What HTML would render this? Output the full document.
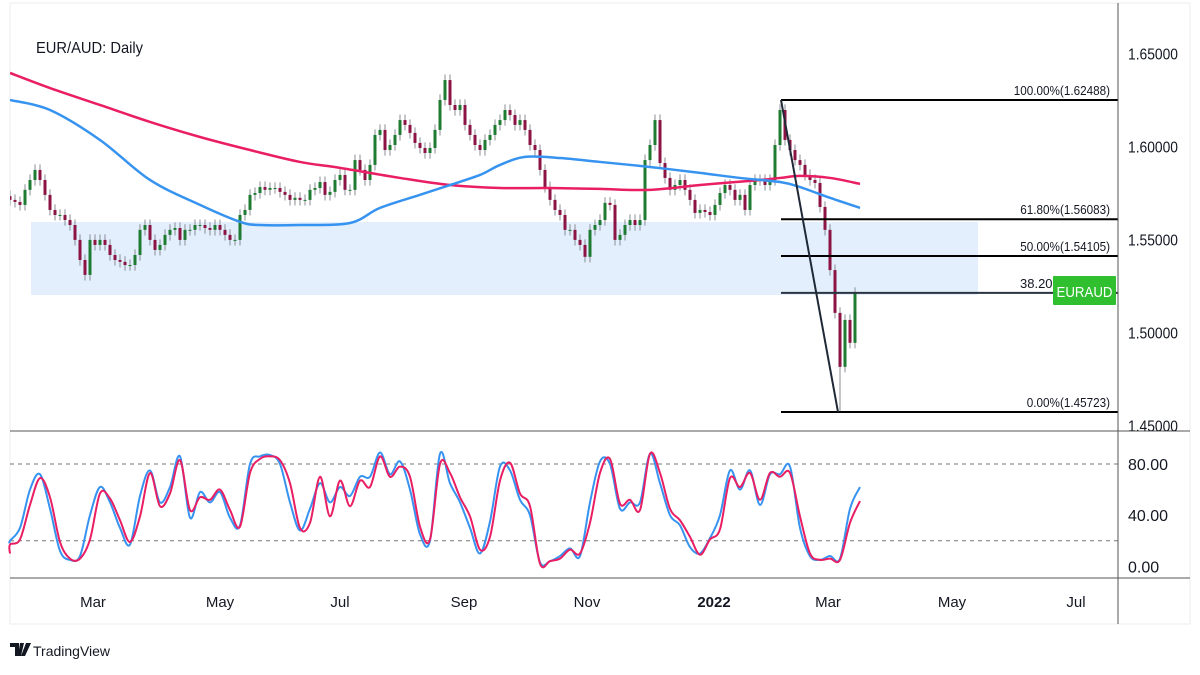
<!DOCTYPE html>
<html><head><meta charset="utf-8"><style>
html,body{margin:0;padding:0;background:#fff;width:1200px;height:675px;overflow:hidden}
svg{display:block;font-family:"Liberation Sans",sans-serif}
</style></head><body>
<svg id="chart" width="1200" height="675" viewBox="0 0 1200 675">
<defs><clipPath id="pricePane"><rect x="10" y="3" width="1108" height="428"/></clipPath>
<clipPath id="priceAxisClip"><rect x="1118" y="3" width="72" height="428"/></clipPath></defs>
<rect x="10" y="3" width="1180" height="621" fill="#fff" stroke="#eceef2" stroke-width="1"/>
<rect x="31" y="222" width="947" height="73" fill="#e3effc"/>
<g id="candles" clip-path="url(#pricePane)"></g>
<g id="mas" clip-path="url(#pricePane)"></g>
<g id="fib"></g>
<g id="stoch"></g>
<line x1="10" y1="431" x2="1190" y2="431" stroke="#555" stroke-width="1"/>
<line x1="10" y1="578" x2="1190" y2="578" stroke="#555" stroke-width="1"/>
<line x1="1118" y1="3" x2="1118" y2="624" stroke="#555" stroke-width="1"/>
<g id="axes"></g>
<text x="36" y="53" font-size="16" fill="#131722" transform="translate(36 0) scale(0.92 1) translate(-36 0)">EUR/AUD: Daily</text>
<g>
<path d="M10 643h9v13h-4v-9h-5z M20 643h4l-3 13h-3z M26 643h5l-6 13h-4z" fill="#131722"/>
<text x="33" y="656" font-size="14" fill="#131722">TradingView</text>
</g>
</svg>
<script>
const closes=[1.5712,1.5701,1.5685,1.5766,1.5819,1.5873,1.5819,1.5739,1.5658,1.5631,1.5631,1.5604,1.5577,1.5497,1.5389,1.5309,1.5497,1.5470,1.5497,1.5470,1.5416,1.5389,1.5379,1.5362,1.5362,1.5416,1.5551,1.5577,1.5497,1.5443,1.5470,1.5524,1.5551,1.5561,1.5497,1.5551,1.5551,1.5577,1.5577,1.5561,1.5551,1.5577,1.5551,1.5524,1.5497,1.5497,1.5631,1.5658,1.5739,1.5749,1.5781,1.5766,1.5776,1.5776,1.5755,1.5739,1.5712,1.5723,1.5712,1.5712,1.5766,1.5776,1.5808,1.5739,1.5755,1.5819,1.5846,1.5766,1.5766,1.5926,1.5873,1.5819,1.5900,1.6061,1.6088,1.5980,1.6007,1.6061,1.6141,1.6115,1.6072,1.6018,1.5991,1.5964,1.5991,1.6088,1.6249,1.6356,1.6222,1.6195,1.6222,1.6115,1.6061,1.6007,1.5980,1.6034,1.6061,1.6115,1.6141,1.6195,1.6168,1.6115,1.6141,1.6088,1.6007,1.5980,1.5873,1.5781,1.5712,1.5658,1.5631,1.5551,1.5551,1.5497,1.5470,1.5406,1.5551,1.5577,1.5604,1.5696,1.5685,1.5497,1.5524,1.5577,1.5604,1.5577,1.5604,1.5926,1.6007,1.6141,1.5910,1.5830,1.5766,1.5792,1.5819,1.5766,1.5712,1.5642,1.5658,1.5647,1.5631,1.5685,1.5749,1.5792,1.5766,1.5712,1.5739,1.5658,1.5792,1.5819,1.5819,1.5792,1.5819,1.6007,1.6195,1.6034,1.5980,1.5926,1.5900,1.5846,1.5819,1.5803,1.5674,1.5551,1.5335,1.5105,1.4815,1.5067,1.4944,1.5212];
const lowSpike=1.45723;
const sma200=[1.6394,1.6313,1.6222,1.6131,1.6050,1.5980,1.5916,1.5884,1.5830,1.5792,1.5776,1.5776,1.5771,1.5766,1.5792,1.5814,1.5830,1.5841,1.5830,1.5798];
const sma200X=[10,50,100,150,200,250,300,340,400,450,500,550,600,650,700,750,780,800,830,860];
const sma100=[1.6249,1.6195,1.6034,1.5819,1.5685,1.5594,1.5577,1.5577,1.5588,1.5669,1.5739,1.5792,1.5846,1.5900,1.5943,1.5937,1.5916,1.5889,1.5857,1.5830,1.5808,1.5781,1.5723,1.5669];
const sma100X=[10,50,100,150,200,240,260,300,350,380,420,450,480,500,525,560,600,650,700,740,780,800,830,860];
const stochK=[18,20,30,60,72,45,12,5,8,40,62,50,30,17,55,75,50,62,86,38,58,50,58,38,32,80,86,87,80,50,28,45,65,50,62,55,70,70,89,72,82,60,25,20,88,65,50,30,10,35,78,75,52,40,3,4,8,14,8,50,82,80,45,50,50,88,65,40,32,15,10,22,40,75,60,75,48,72,72,78,30,8,5,8,6,45,62];
const stochD=[10,17,21,48,69,54,19,6,6,21,57,53,36,19,39,73,47,57,83,44,54,52,60,44,31,73,84,86,83,65,30,34,70,39,67,47,67,62,86,70,78,70,31,21,80,73,54,39,13,23,67,81,57,47,2,4,6,13,10,34,73,84,49,52,44,88,73,45,36,23,9,21,29,69,62,73,52,73,70,73,39,10,5,6,5,34,51];
const fibLevels=[1.62488,1.56083,1.54105,1.52127,1.45723];
const fibLabels=["100.00%(1.62488)","61.80%(1.56083)","50.00%(1.54105)","38.20%","0.00%(1.45723)"];
const priceTicks=[1.65,1.60,1.55,1.50,1.45];
const stochTicks=[80,40,0];
const stochBands=[80,20];
const monthLabels=["Mar","May","Jul","Sep","Nov","2022","Mar","May","Jul"];
const monthX=[93,220,340,464,587,714,828,952,1076];

const NS="http://www.w3.org/2000/svg";
const py=p=>100+(1.62488-p)*1861;
const sy=v=>540.7-(v-20)*1.278;
const cx=i=>10+i*5;
const sx=i=>i*10;
function mk(tag,attrs,parent){const e=document.createElementNS(NS,tag);for(const k in attrs)e.setAttribute(k,attrs[k]);parent.appendChild(e);return e;}
function smooth(pts){let d='M'+pts[0][0]+' '+pts[0][1];for(let i=0;i<pts.length-1;i++){const p0=pts[i-1]||pts[i],p1=pts[i],p2=pts[i+1],p3=pts[i+2]||p2;
const c1=[p1[0]+(p2[0]-p0[0])/6,p1[1]+(p2[1]-p0[1])/6],c2=[p2[0]-(p3[0]-p1[0])/6,p2[1]-(p3[1]-p1[1])/6];
d+=' C'+c1[0]+' '+c1[1]+' '+c2[0]+' '+c2[1]+' '+p2[0]+' '+p2[1];}return d;}
const gC=document.getElementById('candles');
for(let i=0;i<closes.length;i++){
  const o=i?closes[i-1]:closes[0]+0.002, c=closes[i];
  const up=c>=o, x=cx(i);
  const hi=Math.max(o,c)+0.003, lo=(i===closes.length-4)?lowSpike:Math.min(o,c)-0.003;
  const w=mk('line',{x1:x,x2:x,y1:py(hi),y2:py(lo),stroke:'#8a8d96','stroke-width':1},gC);
  
  
  const b=mk('rect',{x:x-1.5,y:py(Math.max(o,c)),width:3,height:Math.max(1,Math.abs(py(o)-py(c))),fill:up?'#1e7b32':'#8b1445'},gC);
  
  
}
const gM=document.getElementById('mas');
const l200=mk('path',{d:smooth(sma200.map((v,i)=>[sma200X[i],py(v)])),fill:'none',stroke:'#e91e63','stroke-width':2.5},gM);


const l100=mk('path',{d:smooth(sma100.map((v,i)=>[sma100X[i],py(v)])),fill:'none',stroke:'#3793f0','stroke-width':2.5},gM);


const gF=document.getElementById('fib');
fibLevels.forEach((v,i)=>{
  const y=py(v);
  const l=mk('line',{x1:781,x2:1118,y1:y,y2:y,stroke:i===3?'#2a3440':'#000','stroke-width':2},gF);
  
  
  const t=mk('text',{x:i===3?1020:1110,y:y-5,'font-size':13,fill:'#131722','text-anchor':i===3?'start':'end',textLength:i===3?'':'',},gF);
  if(i!==3){t.setAttribute('transform','translate(1110 0) scale(0.9 1) translate(-1110 0)');}
  t.textContent=fibLabels[i];
  
  
});
const dg=mk('line',{x1:781,y1:py(fibLevels[0]),x2:838,y2:py(fibLevels[4]),stroke:'#1f2937','stroke-width':2},gF);


const tg=mk('rect',{x:1053,y:276,width:63,height:29,fill:'#2fbf2f',rx:1},gF);


const tt=mk('text',{x:1084.5,y:297,'font-size':15,fill:'#fff','text-anchor':'middle',textLength:56,lengthAdjust:'spacingAndGlyphs'},gF);
tt.textContent='EURAUD';


const gS=document.getElementById('stoch');
stochBands.forEach(v=>{const l=mk('line',{x1:10,x2:1118,y1:sy(v),y2:sy(v),stroke:'#777','stroke-dasharray':'4 4','stroke-width':1},gS);

});
const kl=mk('path',{d:smooth(stochK.map((v,i)=>[Math.max(10,sx(i)),sy(v)])),fill:'none',stroke:'#3793f0','stroke-width':2},gS);


const dl=mk('path',{d:smooth(stochD.map((v,i)=>[Math.max(10,sx(i)),sy(v)])),fill:'none',stroke:'#e91e63','stroke-width':2},gS);


const gA=document.getElementById('axes');
const pa=mk('g',{'clip-path':'url(#priceAxisClip)'},gA);
priceTicks.forEach(v=>{const t=mk('text',{x:1128,y:py(v)+6,'font-size':16,fill:'#131722',textLength:50,lengthAdjust:'spacingAndGlyphs'},pa);t.textContent=v.toFixed(5);

});
stochTicks.forEach(v=>{const t=mk('text',{x:1128,y:sy(v)+6,'font-size':16,fill:'#131722'},gA);t.textContent=v.toFixed(2);

});
monthLabels.forEach((m,i)=>{const t=mk('text',{x:monthX[i],y:607,'font-size':15,fill:'#131722','text-anchor':'middle','font-weight':m==='2022'?'bold':'normal'},gA);t.textContent=m;

});
</script>
</body></html>
